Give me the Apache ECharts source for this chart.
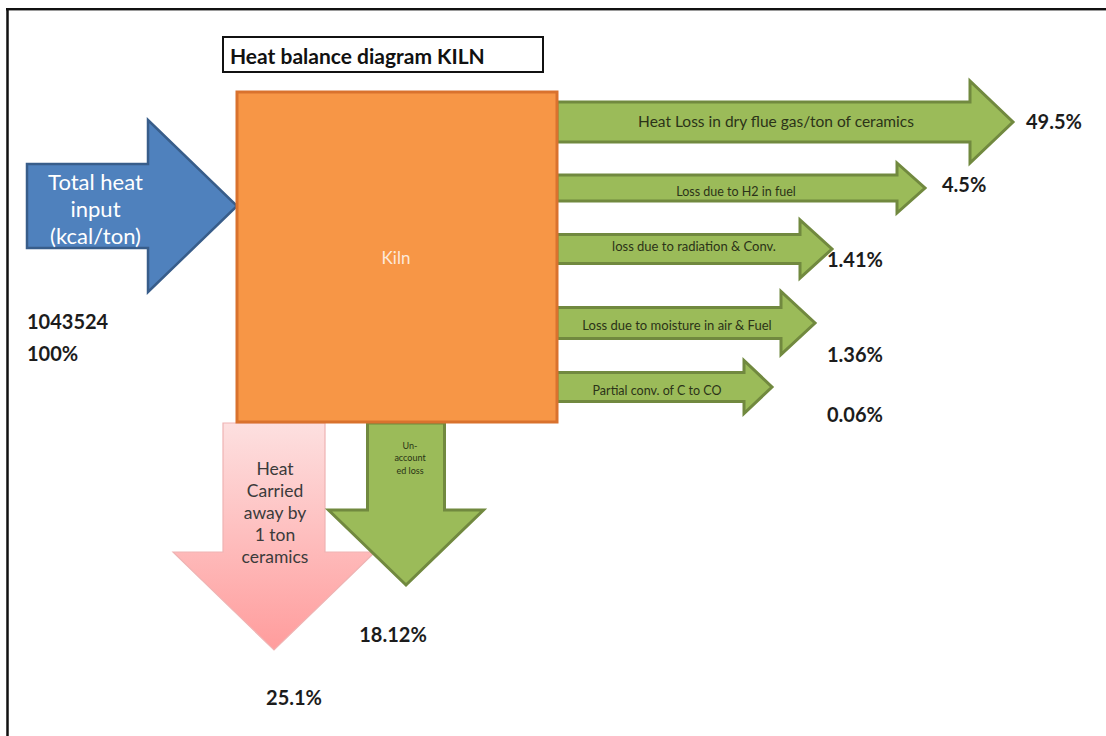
<!DOCTYPE html>
<html>
<head>
<meta charset="utf-8">
<title>Heat balance diagram KILN</title>
<script src="https://cdn.jsdelivr.net/npm/echarts@6/dist/echarts.min.js"></script>
<style>
  html, body { margin: 0; padding: 0; background: #ffffff; overflow: hidden; }
  #chart { width: 1106px; height: 736px; }
</style>
</head>
<body>
<div id="chart"></div>
<script>
// ---- Heat balance figures (per ton of ceramics) ----
const totalHeatInput = 1043524;          // kcal/ton
const inputPercent = 100;
const inputLabel = 'Total heat\ninput\n(kcal/ton)';

const stackLosses = [
  'Heat Loss in dry flue gas/ton of ceramics',
  'Loss due to H2 in fuel',
  'loss due to radiation & Conv.',
  'Loss due to moisture in air & Fuel',
  'Partial conv. of C to CO'
];
const stackLossPercents = [49.5, 4.5, 1.41, 1.36, 0.06];

const downLosses = ['Heat\nCarried\naway by\n1 ton\nceramics', 'Un-\naccount\ned loss'];
const downLossPercents = [25.1, 18.12];

// ---- Diagram layout (axis units = canvas pixels) ----
const kilnBox = { x0: 237, x1: 557, y0: 92, y1: 422 };
const inputArrow = { x0: 27, base: 148, tip: 237, cy: 206, h: 42, H: 86 };
const sideArrows = [
  { cy: 122, h: 20,   H: 41,   base: 970, tip: 1013, lx: 776, ly: 121, fs: 15.5, px: 1026, py: 121 },
  { cy: 188, h: 13,   H: 25,   base: 897, tip: 925,  lx: 736, ly: 191, fs: 12.5, px: 942,  py: 184 },
  { cy: 249, h: 14.5, H: 29,   base: 800, tip: 832,  lx: 694, ly: 246, fs: 13,   px: 827,  py: 259 },
  { cy: 323, h: 15.5, H: 31.5, base: 781, tip: 815,  lx: 677, ly: 325, fs: 13,   px: 827,  py: 354 },
  { cy: 387, h: 14.5, H: 26.5, base: 744, tip: 772,  lx: 657, ly: 390, fs: 12.5, px: 827,  py: 414 }
];
const downArrows = [
  { cx: 274, w: 51,   W: 101,  top: 423, base: 552, tip: 650, ty: 457, lh: 22, fs: 17.5, tc: '#3b3b3b', px: 294, py: 697 },
  { cx: 406, w: 38.5, W: 77.5, top: 423, base: 510, tip: 585, ty: 439, lh: 12.5, fs: 9, tc: '#2a3316', px: 393, py: 634 }
];

const FONT = 'Lato, "Open Sans", "Liberation Sans", sans-serif';
const GREEN = '#9BBB59', GREEN_EDGE = '#71893F';

function pts(api, list) { return list.map(p => api.coord(p)); }

function rightArrowShape(a, x0) {
  return [[x0, a.cy - a.h], [a.base, a.cy - a.h], [a.base, a.cy - a.H], [a.tip, a.cy],
          [a.base, a.cy + a.H], [a.base, a.cy + a.h], [x0, a.cy + a.h]];
}
function downArrowShape(a) {
  return [[a.cx - a.w, a.top], [a.cx + a.w, a.top], [a.cx + a.w, a.base], [a.cx + a.W, a.base],
          [a.cx, a.tip], [a.cx - a.W, a.base], [a.cx - a.w, a.base]];
}
function pctText(api, x, y, txt, align) {
  const c = api.coord([x, y]);
  return { type: 'text', x: c[0], y: c[1], z2: 10,
    style: { text: txt, fill: '#1c1c1c', font: 'bold 20px ' + FONT, align: align || 'left', verticalAlign: 'middle' } };
}

const chart = echarts.init(document.getElementById('chart'), null, { renderer: 'svg' });

chart.setOption({
  backgroundColor: '#ffffff',
  animation: false,
  grid: { left: 0, right: 0, top: 0, bottom: 0 },
  xAxis: { type: 'value', min: 0, max: 1106, show: false },
  yAxis: { type: 'value', min: 0, max: 736, inverse: true, show: false },
  graphic: [
    // frame lines along the top and left edge
    { type: 'line', shape: { x1: 6, y1: 9, x2: 1106, y2: 9 }, style: { stroke: '#111', lineWidth: 2 } },
    { type: 'line', shape: { x1: 6, y1: 10.5, x2: 1106, y2: 10.5 }, style: { stroke: '#9a9a9a', lineWidth: 1 } },
    { type: 'line', shape: { x1: 7.5, y1: 8, x2: 7.5, y2: 736 }, style: { stroke: '#111', lineWidth: 2.5 } },
    // title box
    { type: 'rect', shape: { x: 223, y: 37, width: 320, height: 35 }, style: { fill: '#fff', stroke: '#111', lineWidth: 2 } },
    { type: 'text', x: 230, y: 55, style: { text: 'Heat balance diagram KILN', fill: '#111', font: 'bold 21px ' + FONT, verticalAlign: 'middle' } }
  ],
  series: [
    {
      // heat input arrow with total and share
      type: 'custom', name: 'Input', z: 2,
      data: [[totalHeatInput, inputPercent]],
      renderItem: function (params, api) {
        const a = inputArrow;
        const c = api.coord([(a.x0 + a.base) / 2 + 8, a.cy + 2]);
        return { type: 'group', children: [
          { type: 'polygon', shape: { points: pts(api, rightArrowShape(a, a.x0)) },
            style: { fill: '#4F81BD', stroke: '#385D8A', lineWidth: 2.5, lineJoin: 'miter' } },
          { type: 'text', x: c[0], y: c[1], style: { text: inputLabel, fill: '#ffffff', font: '22px ' + FONT,
            align: 'center', verticalAlign: 'middle', lineHeight: 27 } },
          pctText(api, 27, 321, String(api.value(0))),
          pctText(api, 27, 353, api.value(1) + '%')
        ] };
      }
    },
    {
      // losses leaving the side of the kiln
      type: 'custom', name: 'Side losses', z: 2,
      data: stackLossPercents.map((v, i) => [i, v]),
      renderItem: function (params, api) {
        const i = api.value(0), a = sideArrows[i];
        const lc = api.coord([a.lx, a.ly]);
        return { type: 'group', children: [
          { type: 'polygon', shape: { points: pts(api, rightArrowShape(a, kilnBox.x1)) },
            style: { fill: GREEN, stroke: GREEN_EDGE, lineWidth: 3, lineJoin: 'miter' } },
          { type: 'text', x: lc[0], y: lc[1], style: { text: stackLosses[i], fill: '#2b3318',
            font: a.fs + 'px ' + FONT, align: 'center', verticalAlign: 'middle' } },
          pctText(api, a.px, a.py, api.value(1) + '%')
        ] };
      }
    },
    {
      // losses leaving the bottom of the kiln
      type: 'custom', name: 'Bottom losses', z: 2,
      data: downLossPercents.map((v, i) => [i, v]),
      renderItem: function (params, api) {
        const i = api.value(0), a = downArrows[i];
        const tc = api.coord([a.cx + (i === 0 ? 1 : 4), a.ty]);
        const pink = i === 0;
        return { type: 'group', children: [
          { type: 'polygon', shape: { points: pts(api, downArrowShape(a)) },
            style: pink ? {
              fill: new echarts.graphic.LinearGradient(0, 0, 0, 1, [
                { offset: 0, color: '#FDE0E0' }, { offset: 1, color: '#FF9C9C' }]),
              stroke: '#EFB3B3', lineWidth: 1.2, lineJoin: 'miter'
            } : { fill: GREEN, stroke: GREEN_EDGE, lineWidth: 3, lineJoin: 'miter' } },
          { type: 'text', x: tc[0], y: tc[1], style: { text: downLosses[i], fill: a.tc,
            font: a.fs + 'px ' + FONT, align: 'center', verticalAlign: 'top', lineHeight: a.lh } },
          pctText(api, a.px, a.py, api.value(1) + '%', 'center')
        ] };
      }
    },
    {
      // the kiln itself
      type: 'custom', name: 'Kiln', z: 3,
      data: [['Kiln']],
      renderItem: function (params, api) {
        const k = kilnBox;
        const p0 = api.coord([k.x0, k.y0]), p1 = api.coord([k.x1, k.y1]);
        const c = api.coord([(k.x0 + k.x1) / 2 - 1, 257]);
        return { type: 'group', children: [
          { type: 'rect', shape: { x: p0[0], y: p0[1], width: p1[0] - p0[0], height: p1[1] - p0[1] },
            style: { fill: '#F79646', stroke: '#D9722E', lineWidth: 3 } },
          { type: 'text', x: c[0], y: c[1], style: { text: 'Kiln', fill: '#FDE9D9', font: '17px ' + FONT,
            align: 'center', verticalAlign: 'middle' } }
        ] };
      }
    }
  ]
});
</script>
</body>
</html>
